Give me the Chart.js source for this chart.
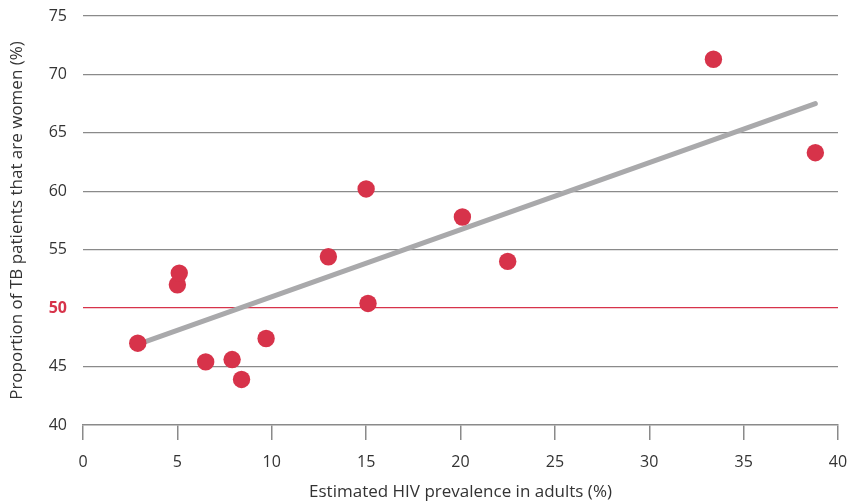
<!DOCTYPE html>
<html>
<head>
<meta charset="utf-8">
<script src="https://cdn.jsdelivr.net/npm/chart.js@4"></script>
<style>
  html, body { margin: 0; padding: 0; background: #ffffff; }
  #wrap { width: 854px; height: 503px; position: relative; }
</style>
</head>
<body>
<div id="wrap"><canvas id="chart"></canvas></div>
<script>
// Countries: HIV prevalence in adults (%) vs share of TB patients that are women (%)
const hivPrevalence = [2.9, 5.0, 5.1, 6.5, 7.9, 8.4, 9.7, 13.0, 15.0, 15.1, 20.1, 22.5, 33.4, 38.8];
const womenShare    = [47.0, 52.0, 53.0, 45.4, 45.6, 43.9, 47.4, 54.4, 60.2, 50.4, 57.8, 54.0, 71.3, 63.3];

// Fitted trend line end points
const trendX = [2.9, 38.8];
const trendY = [46.9, 67.5];

const xTicks = [0, 5, 10, 15, 20, 25, 30, 35, 40];
const yTicks = [40, 45, 50, 55, 60, 65, 70, 75];

const RED  = '#d7334a';
const GREY = '#8a8a8a';
const TEXT = '#333333';
const FONT = "'Open Sans', 'Noto Sans', sans-serif";

const dots  = hivPrevalence.map((x, i) => ({ x, y: womenShare[i] }));
const trend = trendX.map((x, i) => ({ x, y: trendY[i] }));

new Chart(document.getElementById('chart'), {
    type: 'scatter',
    data: {
        datasets: [
            {
                data: dots,
                backgroundColor: RED,
                borderWidth: 0,
                pointRadius: 8.7,
                order: 0,
            },
            {
                data: trend,
                showLine: true,
                borderColor: '#a9a9ab',
                borderWidth: 5,
                borderCapStyle: 'round',
                pointRadius: 0,
                order: 1,
            },
        ],
    },
    options: {
        responsive: true,
        maintainAspectRatio: false,
        animation: false,
        layout: { padding: { left: 0, right: 16, top: 16, bottom: 0 } },
        plugins: { legend: { display: false }, tooltip: { enabled: false } },
        scales: {
            x: {
                type: 'linear',
                min: 0,
                max: 40,
                afterFit(scale) {
                    scale.height = 78;
                    scale.paddingLeft = 0;
                    scale.paddingRight = 0;
                },
                afterBuildTicks(scale) { scale.ticks = xTicks.map(v => ({ value: v })); },
                border: { display: true, color: GREY, width: 1.5 },
                grid: {
                    display: true,
                    drawOnChartArea: false,
                    drawTicks: true,
                    tickLength: 15,
                    color: GREY,
                    lineWidth: 1.5,
                },
                ticks: {
                    color: TEXT,
                    font: { family: FONT, size: 16 },
                    padding: 13,
                    maxRotation: 0,
                },
                title: {
                    display: true,
                    text: 'Estimated HIV prevalence in adults (%)',
                    color: TEXT,
                    font: { family: FONT, size: 17 },
                    padding: { top: 0, bottom: 1 },
                },
            },
            y: {
                type: 'linear',
                min: 40,
                max: 75,
                afterFit(scale) {
                    scale.width = 83;
                    scale.paddingTop = 0;
                    scale.paddingBottom = 0;
                },
                afterBuildTicks(scale) { scale.ticks = yTicks.map(v => ({ value: v })); },
                border: { display: false },
                grid: {
                    drawTicks: false,
                    color: ctx => {
                        const v = ctx.tick && ctx.tick.value;
                        if (v === 50) return RED;
                        if (v === 40) return 'rgba(0,0,0,0)';
                        return GREY;
                    },
                    lineWidth: 1.3,
                },
                ticks: {
                    padding: 16,
                    color: ctx => (ctx.tick && ctx.tick.value === 50 ? RED : TEXT),
                    font: ctx => ({
                        family: FONT,
                        size: 16,
                        weight: ctx.tick && ctx.tick.value === 50 ? 'bold' : 'normal',
                    }),
                },
                title: {
                    display: true,
                    text: 'Proportion of TB patients that are women (%)',
                    color: TEXT,
                    font: { family: FONT, size: 17 },
                    padding: { top: 7, bottom: 0 },
                },
            },
        },
    },
});
</script>
</body>
</html>
